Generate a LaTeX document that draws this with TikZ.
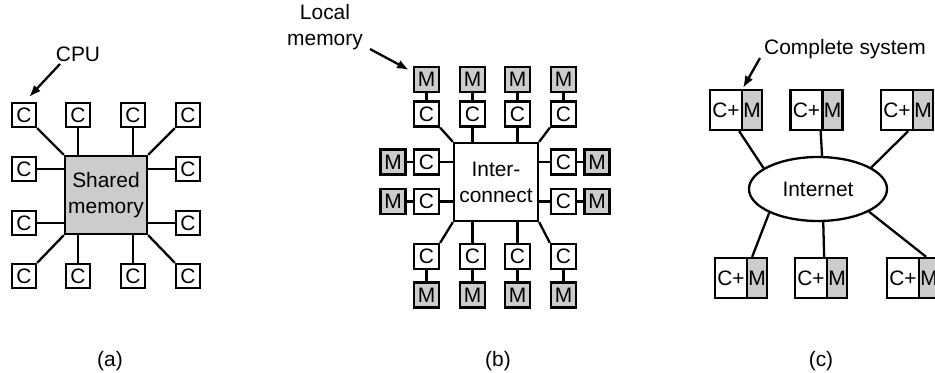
\documentclass[tikz,border=0pt]{standalone}
\usepackage{fontspec}
\setmainfont{Liberation Sans}
\usetikzlibrary{arrows.meta,shapes.geometric}
\definecolor{memgray}{gray}{0.8}
\begin{document}
\begin{tikzpicture}[x=1bp,y=-1bp,
  every node/.style={font=\fontsize{21}{26}\selectfont},
  abox/.style={draw, line width=2.3bp, fill=white, minimum size=24bp, inner sep=0pt},
  bbox/.style={draw, line width=2.3bp, fill=white, minimum size=25bp, inner sep=0pt},
  bmem/.style={bbox, fill=memgray},
  sysc/.style={draw, line width=2.3bp, fill=white, minimum width=32bp, minimum height=40bp, inner sep=0pt},
  sysm/.style={draw, line width=2.3bp, fill=memgray, minimum width=20bp, minimum height=40bp, inner sep=0pt},
  link/.style={line width=2.3bp},
  pointer/.style={line width=2.3bp, -{Latex[length=12bp,width=9bp]}},
  caption/.style={anchor=base},
]
\useasboundingbox (0,0) rectangle (935,372);

% ---------------- (a) ----------------
\node[draw, line width=2.3bp, fill=memgray, minimum width=82bp, minimum height=78bp, inner sep=0pt, align=center] (sm) at (106,195) {Shared\\memory};
\foreach \i/\x in {1/24,2/78,3/133,4/188}{
  \node[abox] (at\i) at (\x,115) {C};
  \node[abox] (ab\i) at (\x,276) {C};
}
\node[abox] (al1) at (24,169) {C};
\node[abox] (al2) at (24,223) {C};
\node[abox] (ar1) at (188,169) {C};
\node[abox] (ar2) at (188,223) {C};
\draw[link] (at1.south east) -- (sm.north west);
\draw[link] (at2.south) -- (at2.south |- sm.north);
\draw[link] (at3.south) -- (at3.south |- sm.north);
\draw[link] (at4.south west) -- (sm.north east);
\draw[link] (ab1.north east) -- (sm.south west);
\draw[link] (ab2.north) -- (ab2.north |- sm.south);
\draw[link] (ab3.north) -- (ab3.north |- sm.south);
\draw[link] (ab4.north west) -- (sm.south east);
\draw[link] (al1.east) -- (al1.east -| sm.west);
\draw[link] (al2.east) -- (al2.east -| sm.west);
\draw[link] (ar1.west) -- (ar1.west -| sm.east);
\draw[link] (ar2.west) -- (ar2.west -| sm.east);
\node[anchor=base] (cpu) at (78,61) {CPU};
\coordinate (cputail) at (60,64);
\coordinate (cputip) at (29,97);
\draw[pointer] (cputail) -- (cputip);
\node[caption] (capa) at (110,366) {(a)};

% ---------------- (b) ----------------
\node[draw, line width=2.3bp, fill=white, minimum width=84bp, minimum height=78bp, inner sep=0pt, align=center] (ic) at (496,182) {Inter-\\connect};
\foreach \i/\x in {1/426.5,2/472.5,3/517.5,4/563.5}{
  \node[bmem] (btm\i) at (\x,79.5) {M};
  \node[bbox] (btc\i) at (\x,114) {C};
  \node[bbox] (bbc\i) at (\x,256.5) {C};
  \node[bmem] (bbm\i) at (\x,295) {M};
  \draw[link] (btm\i.south) -- (btc\i.north);
  \draw[link] (bbc\i.south) -- (bbm\i.north);
}
\foreach \j/\y in {1/162,2/201.5}{
  \node[bmem] (blm\j) at (393,\y) {M};
  \node[bbox] (blc\j) at (426.5,\y) {C};
  \node[bbox] (brc\j) at (563.5,\y) {C};
  \node[bmem] (brm\j) at (597,\y) {M};
  \draw[link] (blm\j.east) -- (blc\j.west);
  \draw[link] (brc\j.east) -- (brm\j.west);
  \draw[link] (blc\j.east) -- (blc\j.east -| ic.west);
  \draw[link] (brc\j.west) -- (brc\j.west -| ic.east);
}
\draw[link] (btc1.south east) -- (ic.north west);
\draw[link] (btc2.south) -- (btc2.south |- ic.north);
\draw[link] (btc3.south) -- (btc3.south |- ic.north);
\draw[link] (btc4.south west) -- (ic.north east);
\draw[link] (bbc1.north east) -- (ic.south west);
\draw[link] (bbc2.north) -- (bbc2.north |- ic.south);
\draw[link] (bbc3.north) -- (bbc3.north |- ic.south);
\draw[link] (bbc4.north west) -- (ic.south east);
\node[anchor=base, align=center] (lmem) at (325,45) {Local\\memory};
\coordinate (lmtail) at (370,49);
\coordinate (lmtip) at (409,70);
\draw[pointer] (lmtail) -- (lmtip);
\node[caption] (capb) at (498,366) {(b)};

% ---------------- (c) ----------------
\node[ellipse, draw, line width=2.3bp, fill=white, minimum width=138bp, minimum height=64bp, inner sep=0pt] (net) at (818,189) {Internet};
\node[sysc] (s1c) at (726,110) {C+};
\node[sysm] (s1m) at (752,110) {M};
\node[sysc] (s2c) at (806.5,110) {C+};
\node[sysm] (s2m) at (832.5,110) {M};
\node[sysc] (s3c) at (897,110) {C+};
\node[sysm] (s3m) at (923,110) {M};
\node[sysc] (s4c) at (731,278) {C+};
\node[sysm] (s4m) at (757,278) {M};
\node[sysc] (s5c) at (811,278) {C+};
\node[sysm] (s5m) at (837,278) {M};
\node[sysc] (s6c) at (903,278) {C+};
\node[sysm] (s6m) at (929,278) {M};
\draw[link] ([xshift=-4bp]s1c.south east) -- (net.159);
\draw[link] ([xshift=-3bp]s2c.south east) -- (net.83);
\draw[link] ([xshift=-6bp]s3c.south east) -- (net.22);
\draw[link] ([xshift=4bp]s4c.north east) -- (net.206);
\draw[link] ([xshift=-4bp]s5c.north east) -- (net.279);
\draw[link] ([xshift=6bp]s6c.north east) -- (net.336);
\node[anchor=base] (csys) at (845,54) {Complete system};
\coordinate (cstail) at (760,58);
\coordinate (cstip) at (743,88);
\draw[pointer] (cstail) -- (cstip);
\node[caption] (capc) at (821,366) {(c)};
\end{tikzpicture}
\end{document}
